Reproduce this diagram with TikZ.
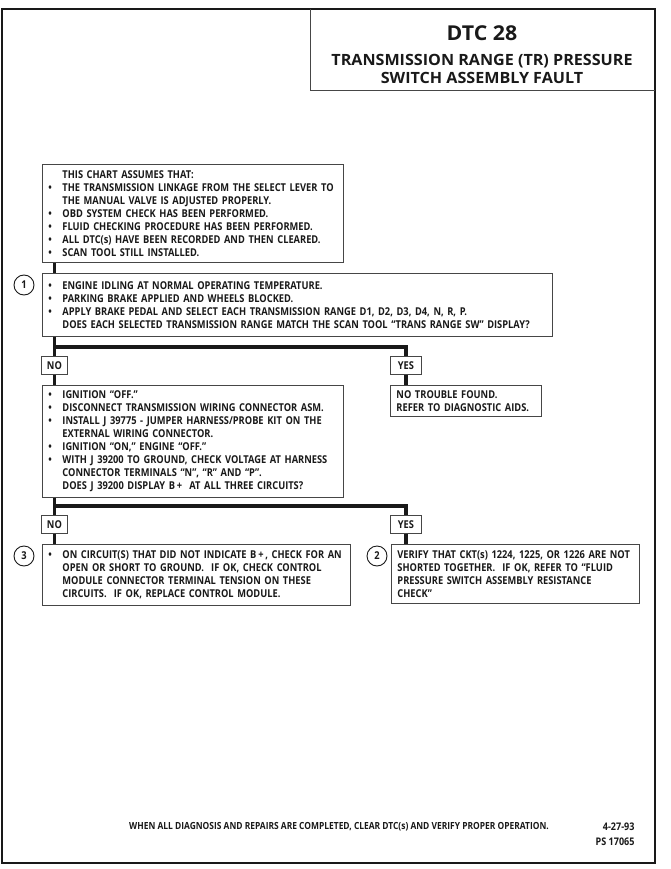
\documentclass[tikz,border=0pt]{standalone}
\usepackage{fontspec}
\setmainfont{Open Sans}[FakeStretch=0.86]
\newfontfamily\titlefont{Open Sans}[FakeStretch=1.04]
\definecolor{ink}{RGB}{25,25,25}
\definecolor{boxline}{RGB}{70,70,70}
\newcommand\bodyfont{\fontsize{10.8}{13}\selectfont\bfseries}
\newcommand\bl{\makebox[14pt][l]{\textbullet}}
\newcommand\ind{\hspace*{14pt}}
\tikzset{
  chartbox/.style={draw=boxline, line width=0.9pt, anchor=north west, align=left,
    inner xsep=6pt, inner ysep=0pt, font=\bodyfont, text=ink},
  answer/.style={draw=boxline, line width=0.9pt, anchor=north west, inner sep=0pt,
    minimum height=18pt, font=\bodyfont, text=ink},
  stepnum/.style={draw=ink, circle, line width=0.9pt, minimum size=20pt, inner sep=0pt,
    font=\bodyfont, text=ink},
  flow/.style={draw=ink, line width=3.2pt, line join=miter},
}

\begin{document}
\begin{tikzpicture}[x=1pt, y=-1pt]
  \useasboundingbox (0,0) rectangle (671,869);
  %% 1. Frame and title
  \draw[ink, line width=1.6pt] (2,9) rectangle (655,863);
  \draw[boxline, line width=0.9pt] (310,9) -- (310,90) -- (655,90);
  \node[font=\titlefont\fontsize{20.5}{22}\selectfont\bfseries, text=ink] (dtc) at (482,33) {DTC 28};
  \node[font=\titlefont\fontsize{15.5}{18}\selectfont\bfseries, text=ink, align=center] (fault) at (482,69)
    {TRANSMISSION RANGE (TR) PRESSURE\\SWITCH ASSEMBLY FAULT};
  %% 2. Boxes
  \node[chartbox, text width=289pt, minimum height=98pt] (assume) at (42,164) {%
    \ind THIS CHART ASSUMES THAT:\\
    \bl THE TRANSMISSION LINKAGE FROM THE SELECT LEVER TO\\
    \ind THE MANUAL VALVE IS ADJUSTED PROPERLY.\\
    \bl OBD SYSTEM CHECK HAS BEEN PERFORMED.\\
    \bl FLUID CHECKING PROCEDURE HAS BEEN PERFORMED.\\
    \bl ALL DTC(s) HAVE BEEN RECORDED AND THEN CLEARED.\\
    \bl SCAN TOOL STILL INSTALLED.};
  \node[chartbox, text width=498pt, minimum height=63pt] (step1) at (42,273) {%
    \bl ENGINE IDLING AT NORMAL OPERATING TEMPERATURE.\\
    \bl PARKING BRAKE APPLIED AND WHEELS BLOCKED.\\
    \bl APPLY BRAKE PEDAL AND SELECT EACH TRANSMISSION RANGE D1, D2, D3, D4, N, R, P.\\
    \ind DOES EACH SELECTED TRANSMISSION RANGE MATCH THE SCAN TOOL ``TRANS RANGE SW'' DISPLAY?};
  \node[stepnum] (num1) at (24,285) {1};
  \node[answer, minimum width=26pt] (no1) at (41,356) {NO};
  \node[answer, minimum width=31pt] (yes1) at (390,356) {YES};
  \node[chartbox, text width=289pt, minimum height=112pt] (check) at (42,385) {%
    \bl IGNITION ``OFF.''\\
    \bl DISCONNECT TRANSMISSION WIRING CONNECTOR ASM.\\
    \bl INSTALL J 39775 - JUMPER HARNESS/PROBE KIT ON THE\\
    \ind EXTERNAL WIRING CONNECTOR.\\
    \bl IGNITION ``ON,'' ENGINE ``OFF.''\\
    \bl WITH J 39200 TO GROUND, CHECK VOLTAGE AT HARNESS\\
    \ind CONNECTOR TERMINALS ``N'', ``R'' AND ``P''.\\
    \ind DOES J 39200 DISPLAY B\,+ \ AT ALL THREE CIRCUITS?};
  \node[chartbox, text width=139pt, minimum height=31pt] (ntf) at (390,385) {%
    NO TROUBLE FOUND.\\
    REFER TO DIAGNOSTIC AIDS.};
  \node[answer, minimum width=26pt] (no2) at (41,515) {NO};
  \node[answer, minimum width=31pt] (yes2) at (390,515) {YES};
  \node[chartbox, text width=296pt, minimum height=61pt] (step3) at (42,544) {%
    \bl ON CIRCUIT(S) THAT DID NOT INDICATE B\,+\,, CHECK FOR AN\\
    \ind OPEN OR SHORT TO GROUND.\ \ IF OK, CHECK CONTROL\\
    \ind MODULE CONNECTOR TERMINAL TENSION ON THESE\\
    \ind CIRCUITS.\ \ IF OK, REPLACE CONTROL MODULE.};
  \node[stepnum] (num3) at (24,556) {3};
  \node[chartbox, text width=236pt, minimum height=59pt] (step2) at (391,544) {%
    VERIFY THAT CKT(s) 1224, 1225, OR 1226 ARE NOT\\
    SHORTED TOGETHER.\ \ IF OK, REFER TO ``FLUID\\
    PRESSURE SWITCH ASSEMBLY RESISTANCE\\
    CHECK''};
  \node[stepnum] (num2) at (377,556) {2};
  %% 3. Flow lines
  \coordinate (bar1) at (0,347);
  \coordinate (bar2) at (0,506);
  \draw[flow] (assume.south -| no1) -- (step1.north -| no1);
  \draw[flow] (step1.south -| no1) -- (bar1 -| no1) -| (yes1.north);
  \draw[flow] (bar1 -| no1) -- (no1.north);
  \draw[flow] (no1.south) -- (check.north -| no1);
  \draw[flow] (yes1.south) -- (ntf.north -| yes1);
  \draw[flow] (check.south -| no2) -- (bar2 -| no2) -| (yes2.north);
  \draw[flow] (bar2 -| no2) -- (no2.north);
  \draw[flow] (no2.south) -- (step3.north -| no2);
  \draw[flow] (yes2.south) -- (step2.north -| yes2);
  %% 4. Footer
  \node[font=\fontsize{9.8}{12}\selectfont\bfseries, text=ink] (done) at (339,827)
    {WHEN ALL DIAGNOSIS AND REPAIRS ARE COMPLETED, CLEAR DTC(s) AND VERIFY PROPER OPERATION.};
  \node[font=\fontsize{10.5}{12}\selectfont\bfseries, text=ink, anchor=east] (date) at (638,827) {4-27-93};
  \node[font=\fontsize{10.5}{12}\selectfont\bfseries, text=ink, anchor=east] (psnum) at (638,842) {PS 17065};
\end{tikzpicture}
\end{document}
